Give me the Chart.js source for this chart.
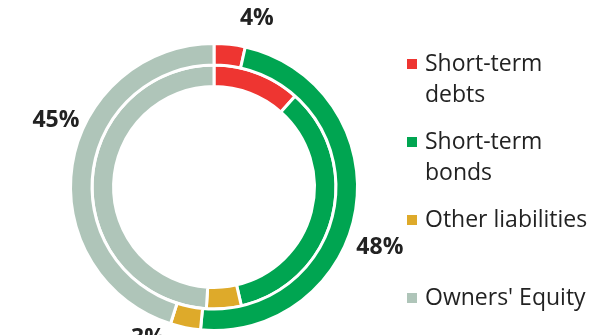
<!DOCTYPE html>
<html>
<head>
<meta charset="utf-8">
<script src="https://cdn.jsdelivr.net/npm/chart.js@4.4.0/dist/chart.umd.min.js"></script>
<style>
  html, body { margin: 0; padding: 0; background: #fff; overflow: hidden; }
  body { width: 598px; height: 335px; position: relative; font-family: "Open Sans", sans-serif; }
  #wrap { position: absolute; left: 0; top: 0; width: 428px; height: 374px; }
  #legend { position: absolute; left: 407px; top: 47px; }
  .item { position: relative; height: 78px; padding-left: 18px; width: 175px;
          font-size: 23px; line-height: 31px; color: #222; }
  .item .box { position: absolute; left: 0; top: 12px; width: 10px; height: 10px; }
</style>
</head>
<body>
<div id="wrap"><canvas id="ring"></canvas></div>
<div id="legend"></div>
<script>
  const categories = ["Short-term debts", "Short-term bonds", "Other liabilities", "Owners' Equity"];
  const outerValues = [3.5, 48, 3.4, 45.1];
  const innerValues = [11.6, 34.8, 4.6, 49];
  const colours = ["#ee3531", "#00a551", "#deaa2a", "#afc5b9"];

  // legend on the right, built from the arrays
  const legend = document.getElementById("legend");
  categories.forEach(function(name, i) {
    const row = document.createElement("div");
    row.className = "item";
    row.innerHTML = '<span class="box" style="background:' + colours[i] + '"></span>' + name;
    legend.appendChild(row);
  });

  // percentage labels next to the outer ring
  // each label sits a bit clockwise of its arc's middle (degrees, extra radius)
  const labelNudge = [[8, 30], [11, 33], [12, 22], [14, 28]];
  const pctLabels = {
    id: "pctLabels",
    afterDatasetsDraw(chart) {
      const ctx = chart.ctx;
      const arcs = chart.getDatasetMeta(0).data;
      ctx.save();
      ctx.font = "bold 23px 'Open Sans'";
      ctx.fillStyle = "#222";
      ctx.textAlign = "center";
      ctx.textBaseline = "middle";
      arcs.forEach(function(arc, i) {
        const mid = (arc.startAngle + arc.endAngle) / 2 + labelNudge[i][0] * Math.PI / 180;
        const r = arc.outerRadius + labelNudge[i][1];
        ctx.fillText(Math.round(outerValues[i]) + "%", arc.x + Math.cos(mid) * r, arc.y + Math.sin(mid) * r);
      });
      ctx.restore();
    }
  };

  new Chart(document.getElementById("ring"), {
    type: "doughnut",
    data: {
      labels: categories,
      datasets: [
        { data: outerValues, backgroundColor: colours, borderColor: "#fff", borderWidth: 3 },
        { data: innerValues, backgroundColor: colours, borderColor: "#fff", borderWidth: 3 }
      ]
    },
    options: {
      responsive: true,
      maintainAspectRatio: false,
      animation: false,
      events: [],
      cutout: "70%",
      layout: { padding: 42 },
      plugins: {
        legend: { display: false },
        tooltip: { enabled: false }
      }
    },
    plugins: [pctLabels]
  });
</script>
</body>
</html>
